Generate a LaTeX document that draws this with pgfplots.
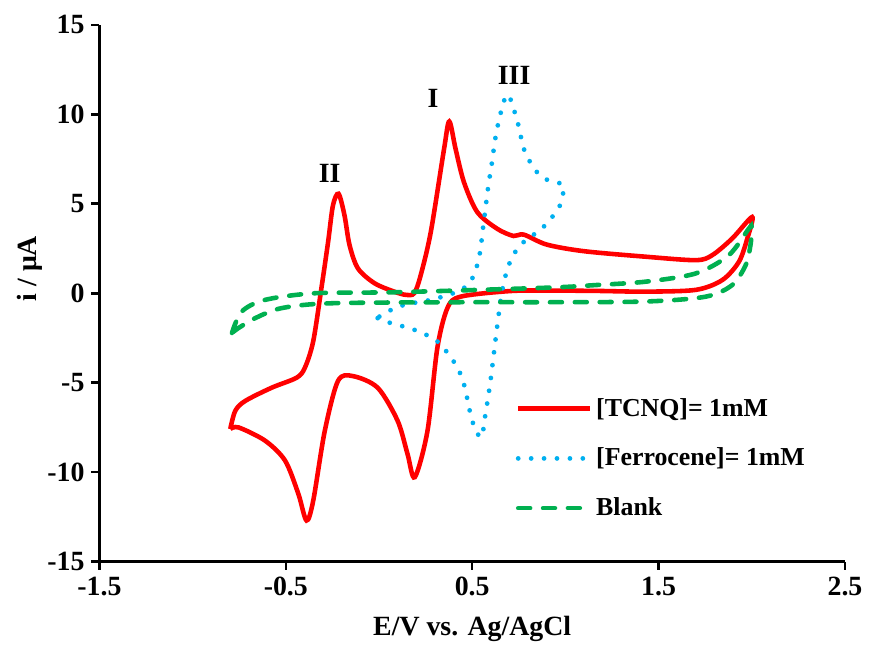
\documentclass[border=0pt]{standalone}
\usepackage{pgfplots}
\pgfplotsset{compat=1.18}
\usepackage{fontspec}
\setmainfont{Liberation Serif}

\definecolor{tcnq}{RGB}{255,0,0}
\definecolor{ferro}{RGB}{0,176,240}
\definecolor{blank}{RGB}{0,176,80}

\begin{document}
\begin{tikzpicture}
\begin{axis}[
    scale only axis, width=375pt, height=270pt,
    xmin=-1.5, xmax=2.5, ymin=-15, ymax=15,
    axis lines=left, axis line style={-, line width=1.3pt},
    xtick={-1.5,-0.5,0.5,1.5,2.5}, xticklabels={-1.5,-0.5,0.5,1.5,2.5},
    ytick={-15,-10,-5,0,5,10,15}, yticklabels={-15,-10,-5,0,5,10,15},
    tick align=outside, major tick length=4pt,
    tick style={line width=1.3pt, black},
    ticklabel style={font=\bfseries\fontsize{14}{16}\selectfont},
    xlabel={E/V vs. Ag/AgCl}, ylabel={i / μA},
    label style={font=\bfseries\fontsize{14}{16}\selectfont},
    xlabel style={at={(axis description cs:0.5,0)}, anchor=center, yshift=-34pt},
    ylabel style={at={(axis description cs:0,0.546)}, anchor=center, yshift=35pt},
    legend style={at={(0.55,0.32)}, anchor=north west, draw=none, fill=none,
        font=\bfseries\fontsize{13}{15}\selectfont, row sep=10.5pt},
    legend cell align=left,
    legend image code/.code={\draw[#1] (0pt,0pt) -- (36pt,0pt);},
]
\addplot[tcnq, line width=2.3pt, smooth] coordinates {
(-0.798,-7.59) (-0.753,-7.50) (-0.611,-8.24) (-0.504,-9.35) (-0.433,-11.2)
(-0.389,-12.7) (-0.353,-11.6) (-0.291,-7.7) (-0.22,-4.9) (-0.14,-4.63)
(-0.007,-5.28) (0.1,-7.13) (0.153,-8.98) (0.192,-10.28) (0.26,-7.7)
(0.313,-3.06) (0.367,-0.83) (0.438,-0.19) (0.7,0.12) (0.9,0.15) (1.17,0.13)
(1.43,0.09) (1.7,0.19) (1.842,0.74) (1.931,1.76) (1.976,3.06) (2.002,4.26)
(1.895,3.06) (1.788,2.13) (1.7,1.85) (1.433,2.04) (1.1,2.35) (0.9,2.72)
(0.776,3.28) (0.722,3.2) (0.633,3.61) (0.527,4.54) (0.456,6.2) (0.411,8.06)
(0.377,9.6) (0.349,8.06) (0.278,3.43) (0.224,1.02) (0.189,0) (0.144,-0.09)
(0.082,0.09) (-0.024,0.56) (-0.113,1.39) (-0.158,2.69) (-0.185,4.35)
(-0.217,5.56) (-0.247,4.91) (-0.273,2.87) (-0.309,0.28) (-0.353,-2.69)
(-0.398,-4.17) (-0.442,-4.72) (-0.576,-5.28) (-0.718,-6.02) (-0.771,-6.57)
(-0.798,-7.59)
};
\addlegendentry{[TCNQ]= 1mM}
\addplot[ferro, line width=2.4pt, line cap=round, dash pattern=on 0pt off 6.5pt, smooth] coordinates {
(-0.007,-1.39) (0.064,-1.67) (0.189,-2.04) (0.313,-2.69) (0.411,-3.98)
(0.456,-5.09) (0.5,-7.13) (0.548,-8.06) (0.571,-6.76) (0.598,-4.91)
(0.633,-1.94) (0.66,0.09) (0.696,1.57) (0.758,2.69) (0.882,3.7)
(0.971,4.91) (0.989,6.02) (0.944,6.2) (0.864,6.57) (0.784,7.87)
(0.74,9.7) (0.687,11.1) (0.633,9.17) (0.601,6.94) (0.589,6.2)
(0.562,3.98) (0.536,1.94) (0.491,0.65) (0.42,0.09) (0.278,-0.37)
(0.135,-0.65) (0.029,-1.11) (-0.007,-1.39)
};
\addlegendentry{[Ferrocene]= 1mM}
\addplot[blank, line width=2.3pt, line cap=round, dash pattern=on 6pt off 6.5pt, smooth] coordinates {
(-0.789,-2.22) (-0.736,-1.02) (-0.611,-0.37) (-0.344,0) (0.1,0.06)
(0.9,0.31) (1.167,0.46) (1.433,0.65) (1.7,1.11) (1.877,2.13) (1.984,3.61)
(2.0,3.7) (1.993,2.69) (1.967,1.57) (1.895,0.46) (1.753,-0.19)
(1.433,-0.46) (0.9,-0.5) (0.456,-0.5) (-0.256,-0.56) (-0.522,-0.83)
(-0.664,-1.39) (-0.753,-1.94) (-0.789,-2.22)
};
\addlegendentry{Blank}
\node[font=\bfseries\fontsize{14}{16}\selectfont] at (axis cs:0.29,10.9) {I};
\node[font=\bfseries\fontsize{14}{16}\selectfont] at (axis cs:-0.265,6.7) {II};
\node[font=\bfseries\fontsize{14}{16}\selectfont] at (axis cs:0.725,12.2) {III};
\end{axis}
\path (current axis.south west) ++(-50pt,-46pt);
\path (current axis.north east) ++(9.5pt,12.5pt);
\end{tikzpicture}
\end{document}
